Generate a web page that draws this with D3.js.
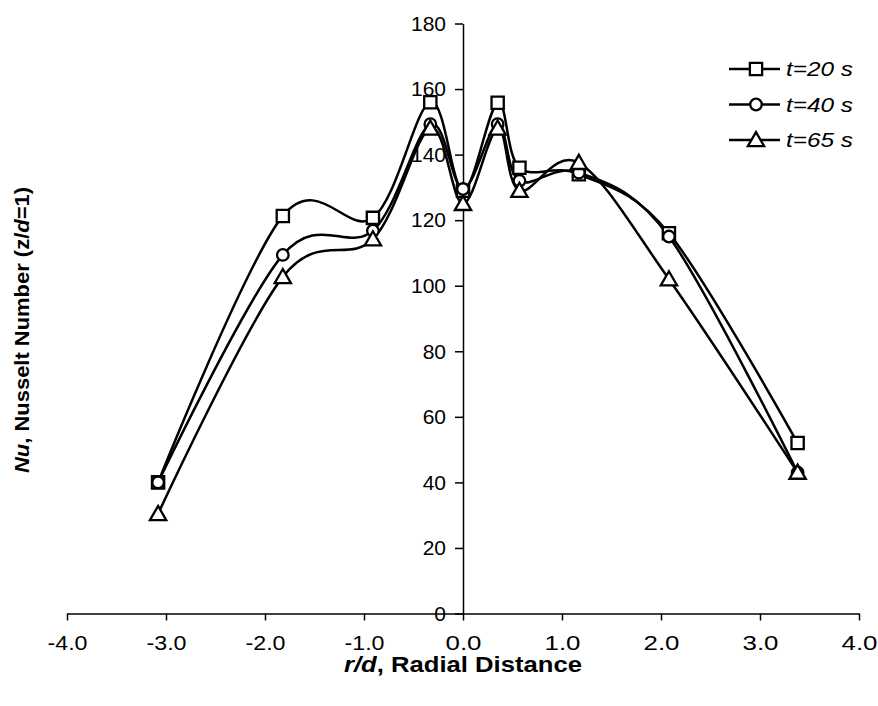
<!DOCTYPE html>
<html>
<head>
<meta charset="utf-8">
<script src="https://cdn.jsdelivr.net/npm/d3@7"></script>
<style>
  body { margin: 0; background: #fff; }
  svg text { font-family: "Liberation Sans", Arial, sans-serif; fill: #000; }
</style>
</head>
<body>
<div id="chart"></div>
<script>
// radial positions r/d
const radial = [-3.08, -1.82, -0.91, -0.33, 0, 0.35, 0.57, 1.17, 2.08, 3.38];
// Nusselt numbers for each time
const nu20 = [40, 121.3, 120.7, 156, 129, 155.8, 136, 134, 116, 52];
const nu40 = [40, 109.4, 116.8, 149.3, 129.5, 149.3, 132, 134.5, 115, 43];
const nu65 = [30.4, 102.7, 114.2, 148, 125, 148, 129, 137.5, 102, 43];
const seriesNames = ['t=20 s', 't=40 s', 't=65 s'];
const xTicks = [-4, -3, -2, -1, 0, 1, 2, 3, 4];
const yTicks = [0, 20, 40, 60, 80, 100, 120, 140, 160, 180];

const W = 878, H = 706;
const svg = d3.select('#chart').append('svg')
  .attr('width', W)
  .attr('height', H);

const x = d3.scaleLinear().domain([-4, 4]).range([67, 859]);
const y = d3.scaleLinear().domain([0, 180]).range([613.5, 23.5]);

// x axis sits on y = 0
const xAxis = svg.append('g')
  .attr('transform', `translate(0,${y(0)})`)
  .call(d3.axisBottom(x).tickValues(xTicks)
    .tickFormat(d => d.toFixed(1)).tickSize(7).tickSizeOuter(0));
xAxis.selectAll('text')
  .style('font-size', '21px')
  .attr('dy', '1.25em')
  .attr('textLength', 40)
  .attr('lengthAdjust', 'spacingAndGlyphs');
xAxis.selectAll('text').filter(d => d >= 0).attr('textLength', 36);

// y axis sits on x = 0
const yAxis = svg.append('g')
  .attr('transform', `translate(${x(0)},0)`)
  .call(d3.axisLeft(y).tickValues(yTicks).tickSize(8).tickSizeOuter(0));
yAxis.selectAll('text').style('font-size', '21px').attr('x', -17);

svg.selectAll('.domain, .tick line').attr('stroke', '#000').attr('stroke-width', 1.5);

// axis titles
const xt = svg.append('text')
  .attr('x', x(0))
  .attr('y', 672)
  .attr('text-anchor', 'middle')
  .attr('textLength', 238)
  .attr('lengthAdjust', 'spacingAndGlyphs')
  .style('font-size', '22px')
  .style('font-weight', 'bold');
xt.append('tspan').style('font-style', 'italic').text('r/d');
xt.append('tspan').text(', Radial Distance');

const yt = svg.append('text')
  .attr('transform', `translate(29,330) rotate(-90)`)
  .attr('text-anchor', 'middle')
  .attr('textLength', 286)
  .attr('lengthAdjust', 'spacingAndGlyphs')
  .style('font-size', '21px')
  .style('font-weight', 'bold');
yt.append('tspan').style('font-style', 'italic').text('Nu');
yt.append('tspan').text(', Nusselt Number (z/');
yt.append('tspan').style('font-style', 'italic').text('d');
yt.append('tspan').text('=1)');

const line = d3.line()
  .x((d, i) => x(radial[i]))
  .y(d => y(d))
  .curve(d3.curveCatmullRom.alpha(0));

const series = [nu20, nu40, nu65];
const shapes = [d3.symbolSquare, d3.symbolCircle, d3.symbolTriangle];
const sizes = [150, 105, 115];

series.forEach(vals => {
  svg.append('path')
    .datum(vals)
    .attr('d', line)
    .attr('fill', 'none')
    .attr('stroke', '#000')
    .attr('stroke-width', 2.5);
});

series.forEach((vals, k) => {
  svg.selectAll(null)
    .data(vals)
    .enter().append('path')
    .attr('d', d3.symbol().type(shapes[k]).size(sizes[k]))
    .attr('transform', (d, i) => `translate(${x(radial[i])},${y(d) + (k === 2 ? 1.5 : 0)})`)
    .attr('fill', '#fff')
    .attr('stroke', '#000')
    .attr('stroke-width', 2.3);
});

// legend
const legend = svg.append('g');
seriesNames.forEach((name, k) => {
  const ly = 69 + k * 35.5;
  legend.append('line')
    .attr('x1', 729).attr('x2', 780)
    .attr('y1', ly).attr('y2', ly)
    .attr('stroke', '#000').attr('stroke-width', 2.5);
  legend.append('path')
    .attr('d', d3.symbol().type(shapes[k]).size(sizes[k]))
    .attr('transform', `translate(756,${ly + (k === 2 ? 1.5 : 0)})`)
    .attr('fill', '#fff')
    .attr('stroke', '#000')
    .attr('stroke-width', 2.3);
  legend.append('text')
    .attr('x', 786)
    .attr('y', ly)
    .attr('dy', '0.35em')
    .attr('textLength', 67)
    .attr('lengthAdjust', 'spacingAndGlyphs')
    .style('font-size', '21px')
    .style('font-style', 'italic')
    .text(name);
});
</script>
</body>
</html>
